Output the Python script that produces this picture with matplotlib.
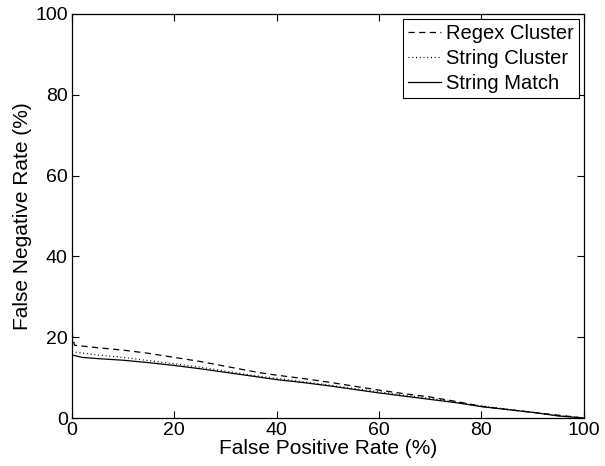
import matplotlib
matplotlib.use("Agg")
import matplotlib.pyplot as plt

plt.rcParams['font.family'] = ['Liberation Sans', 'DejaVu Sans']

# Data
regex_x = [0, 0.2, 0.5, 5, 10, 15, 20, 25, 30, 36.7, 40, 45, 50, 55, 60, 65, 70, 75, 80, 85, 90, 95, 100]
regex_y = [21.5, 19.5, 18, 17.4, 16.8, 16.0, 15.0, 14.0, 12.8, 11.2, 10.6, 9.8, 8.9, 7.9, 6.9, 6.0, 5.2, 4.1, 2.9, 2.1, 1.4, 0.7, 0]

strc_x = [0, 5, 10, 15, 20, 25, 30, 35, 40, 45, 50, 55, 60, 65, 70, 75, 80, 85, 90, 95, 100]
strc_y = [16.4, 15.6, 15.0, 14.2, 13.4, 12.6, 11.6, 10.6, 9.8, 9.0, 8.2, 7.3, 6.5, 5.6, 4.9, 3.9, 3.0, 2.2, 1.4, 0.6, 0]

match_x = [0, 2, 5, 10, 15, 20, 25, 30, 35, 40, 45, 50, 55, 60, 65, 70, 75, 80, 85, 90, 95, 100]
match_y = [15.6, 15.0, 14.7, 14.3, 13.7, 13.0, 12.2, 11.3, 10.4, 9.5, 8.8, 8.0, 7.1, 6.2, 5.4, 4.6, 3.8, 2.8, 2.1, 1.4, 0.5, 0]

fig = plt.figure(figsize=(6.05, 4.66), dpi=100)
ax = fig.add_axes([0.119, 0.103, 0.846, 0.867])

ax.plot(regex_x, regex_y, color='black', linestyle=(0, (5, 3.5)), linewidth=0.9, label='Regex Cluster')
ax.plot(strc_x, strc_y, color='black', linestyle=(0, (0.8, 2.2)), linewidth=0.9, label='String Cluster')
ax.plot(match_x, match_y, color='black', linestyle='-', linewidth=0.9, label='String Match')

ax.set_xlim(0, 100)
ax.set_ylim(0, 100)
ax.set_xticks([0, 20, 40, 60, 80, 100])
ax.set_yticks([0, 20, 40, 60, 80, 100])
ax.tick_params(direction='in', top=True, right=True, labelsize=14, length=5, width=0.8, pad=3)
for s in ax.spines.values():
    s.set_linewidth(0.9)

ax.set_xlabel('False Positive Rate (%)', fontsize=15, labelpad=0)
ax.set_ylabel('False Negative Rate (%)', fontsize=15, labelpad=2)

leg = ax.legend(loc='upper right', fontsize=14.5, frameon=True, fancybox=False,
                edgecolor='black', framealpha=1, borderpad=0.25, labelspacing=0.3,
                handlelength=1.65, handletextpad=0.25, borderaxespad=0.25)
leg.get_frame().set_linewidth(0.8)

fig.savefig('out.png', dpi=100)
